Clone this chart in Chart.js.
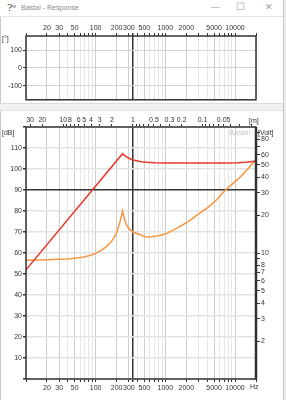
<!DOCTYPE html>
<html>
<head>
<meta charset="utf-8">
<script src="https://cdn.jsdelivr.net/npm/chart.js@4.4.1/dist/chart.umd.min.js"></script>
<style>
body{margin:0;width:286px;height:400px;overflow:hidden;background:#fff;position:relative;font-family:"Liberation Sans",Arial,sans-serif}
#title{position:absolute;left:0;top:0;width:283px;height:16px;border-bottom:1px solid #e6e6e6;font-size:7px;color:#8a8a8a}
#title .ic{position:absolute;left:7px;top:2px;font-size:10px;color:#444;font-family:"DejaVu Serif",serif}
#title .tx{position:absolute;left:21px;top:4px}
#title .b{position:absolute;top:2px;font-size:9px;color:#9a9a9a}
#split{position:absolute;left:0;top:103px;width:283px;height:6px;background:#f0f0f0;border-top:1px solid #dcdcdc;border-bottom:1px solid #e4e4e4}
#edgeL{position:absolute;left:0;top:17px;width:1px;height:383px;background:#c8c8c8}
#edgeR{position:absolute;left:283px;top:0;width:3px;height:400px;background:#eeeeee;border-left:1px solid #c4c4c4}
canvas{position:absolute;left:0}
#phase{top:17px}
#resp{top:110px}
</style>
</head>
<body>
<div id="title"><span class="ic">?ᵉ</span><span class="tx">Basta! - Response</span><span class="b" style="left:211px">—</span><span class="b" style="left:236px;font-size:10px;top:1px">☐</span><span class="b" style="left:265px">✕</span></div>
<div id="edgeL"></div>
<canvas id="phase" width="283" height="88"></canvas>
<div id="split"></div>
<canvas id="resp" width="283" height="290"></canvas>
<div id="edgeR"></div>
<script>
// frequency axis (Hz)
var hzTicks = [10,20,30,40,50,60,70,80,90,100,200,300,343,400,500,600,700,800,900,1000,2000,3000,4000,5000,6000,7000,8000,9000,10000,20000];
var hzLabels = [20,30,50,100,200,300,500,1000,2000,5000,10000];

// wavelength axis (m), c = 343 m/s
var mTicks = [30,20,10,9,8,7,6,5,4,3,2,1,0.9,0.8,0.7,0.6,0.5,0.4,0.3,0.2,0.1,0.09,0.08,0.07,0.06,0.05,0.04,0.03,0.02];
var mLabels = [30,20,10,8,6,5,4,3,2,1,0.5,0.3,0.2,0.1,0.05];

// left dB axis, right Volt axis, phase axis
var dbLabels = [5,10,15,20,25,30,35,40,45,50,55,60,65,70,75,80,85,90,95,100,105,110];
var voltTicks = [2,3,4,5,6,7,8,9,10,20,30,40,50,60,70,80,90];
var voltLabels = [2,3,4,5,6,7,8,10,20,30,40,50,60,80];
var phaseTicks = [-100,0,100];

// red curve
var redHz = [10,243,255,275,300,343,400,450,550,700,1000,2000,5000,8000,11000,14000,17000,20000];
var redDb = [52,107.3,106.6,105.9,105.1,104.3,103.8,103.5,103.2,103.0,102.85,102.8,102.8,102.85,103.0,103.2,103.5,103.8];

// orange curve
var orangeHz = [10,15,20,30,40,50,60,70,80,100,120,140,160,180,200,215,230,243,255,270,290,315,343,380,430,500,550,650,800,1000,1320,1700,2290,3000,4000,5500,7300,10000,12000,15000,17000,20000];
var orangeDb = [56.6,56.7,56.8,57.0,57.2,57.5,57.8,58.2,58.7,59.8,61.2,62.8,64.6,66.8,69.8,73.0,76.5,80.0,77.0,74.3,72.2,70.9,70.1,69.4,68.8,67.8,67.6,67.7,68.2,69.0,71.0,73.0,75.7,78.6,81.5,85.5,90.0,94.0,96.3,99.8,101.8,104.5];

var tickFont = {family: '"Liberation Sans", Arial, sans-serif', size: 7};

var frame = {
    id: 'frame',
    afterDraw: function(chart, args, opts) {
        var ctx = chart.ctx, a = chart.chartArea;
        ctx.save();
        ctx.strokeStyle = '#333';
        ctx.lineWidth = 1.5;
        ctx.strokeRect(a.left, a.top, a.right - a.left, a.bottom - a.top);
        if (opts.thickRight) {
            ctx.lineWidth = 2.5;
            ctx.beginPath();
            ctx.moveTo(a.right, a.top);
            ctx.lineTo(a.right, a.bottom);
            ctx.stroke();
        }
        ctx.textBaseline = 'middle';
        (opts.texts || []).forEach(function(t) {
            ctx.font = (t.size || 7) + 'px "Liberation Sans", Arial, sans-serif';
            ctx.fillStyle = t.color || '#333';
            ctx.textAlign = t.align || 'left';
            ctx.fillText(t.text, t.x, t.y);
        });
        ctx.restore();
    }
};

function hzGrid(c) {
    if (!c.tick) return '#e6e6e6';
    if (c.tick.value === 343) return '#333';
    return hzLabels.indexOf(c.tick.value) >= 0 ? '#cdcdcd' : '#e6e6e6';
}

function hzLabel(v) {
    return hzLabels.indexOf(v) >= 0 ? String(v) : '';
}

function hzAxis(pos, h, pad) {
    return {
        type: 'logarithmic', position: pos, min: 10, max: 20000,
        afterBuildTicks: function(s) { s.ticks = hzTicks.map(function(v) { return {value: v}; }); },
        afterFit: function(s) { s.height = h; },
        ticks: {autoSkip: false, maxRotation: 0, font: tickFont, color: '#333', padding: pad, callback: hzLabel},
        grid: {color: hzGrid, lineWidth: function(c) { return c.tick && c.tick.value === 343 ? 1.5 : 1; },
            tickColor: '#333', tickLength: 3},
        border: {display: false}
    };
}

// PHASE
var ctx = document.getElementById('phase').getContext('2d');
var phase = new Chart(ctx, {
    type: 'line',
    data: {datasets: []},
    options: {
        responsive: false,
        animation: false,
        layout: {padding: {right: 27, bottom: 5}},
        plugins: {legend: {display: false}, tooltip: {enabled: false},
            frame: {texts: [{text: '[°]', x: 2, y: 22}]}},
        scales: {
            x: hzAxis('top', 19, 1),
            y: {
                type: 'linear', min: -180, max: 180,
                afterBuildTicks: function(s) { s.ticks = phaseTicks.map(function(v) { return {value: v}; }); },
                afterFit: function(s) { s.width = 26; },
                ticks: {font: tickFont, color: '#333', padding: 1},
                grid: {color: '#d4d4d4', tickColor: '#333', tickLength: 3},
                border: {display: false}
            }
        }
    },
    plugins: [frame]
});

// RESPONSE
var ctx = document.getElementById('resp').getContext('2d');
var resp = new Chart(ctx, {
    type: 'line',
    data: {
        datasets: [{
            label: 'max',
            data: redHz.map(function(f, i) { return {x: f, y: redDb[i]}; }),
            borderColor: '#e8372c',
            borderWidth: 1.5,
            pointRadius: 0,
            xAxisID: 'x', yAxisID: 'y'
        }, {
            label: 'spl',
            data: orangeHz.map(function(f, i) { return {x: f, y: orangeDb[i]}; }),
            borderColor: '#f7953f',
            borderWidth: 1.5,
            pointRadius: 0,
            xAxisID: 'x', yAxisID: 'y'
        }]
    },
    options: {
        responsive: false,
        animation: false,
        plugins: {legend: {display: false}, tooltip: {enabled: false},
            frame: {thickRight: true, texts: [
                {text: '[dB]', x: 2, y: 23},
                {text: '[m]', x: 249, y: 11},
                {text: 'Hz', x: 250, y: 277},
                {text: '[Volt]', x: 258, y: 23},
                {text: 'Basta!', x: 229, y: 23, color: '#c6c6c6', size: 7.5}
            ]}},
        scales: {
            x: hzAxis('bottom', 21, 2),
            x2: {
                type: 'logarithmic', position: 'top', min: 10, max: 20000,
                afterBuildTicks: function(s) { s.ticks = mTicks.map(function(m) { return {value: 343 / m}; }); },
                afterFit: function(s) { s.height = 17; },
                ticks: {autoSkip: false, maxRotation: 0, font: tickFont, color: '#333', padding: 0,
                    callback: function(v, i) { return mLabels.indexOf(mTicks[i]) >= 0 ? String(mTicks[i]) : ''; }},
                grid: {drawOnChartArea: false, tickColor: '#333', tickLength: 3},
                border: {display: false}
            },
            y: {
                type: 'linear', position: 'left', min: 0, max: 120,
                afterBuildTicks: function(s) { var t = []; for (var v = 0; v <= 120; v += 5) t.push({value: v}); s.ticks = t; },
                afterFit: function(s) { s.width = 26; },
                ticks: {font: tickFont, color: '#333', padding: 1,
                    callback: function(v) { return dbLabels.indexOf(v) >= 0 ? String(v) : ''; }},
                grid: {color: function(c) { return c.tick && c.tick.value === 90 ? '#333' : '#e3e3e3'; },
                    lineWidth: 1.5, tickColor: '#333', tickLength: 3},
                border: {display: false}
            },
            y2: {
                type: 'logarithmic', position: 'right', min: 1, max: 100,
                afterBuildTicks: function(s) { s.ticks = voltTicks.map(function(v) { return {value: v}; }); },
                afterFit: function(s) { s.width = 27; },
                ticks: {autoSkip: false, font: tickFont, color: '#333', padding: 1,
                    callback: function(v) { return voltLabels.indexOf(v) >= 0 ? String(v) : ''; }},
                grid: {drawOnChartArea: false, tickColor: '#333', tickLength: 4},
                border: {display: false}
            }
        }
    },
    plugins: [frame]
});
</script>
</body>
</html>
